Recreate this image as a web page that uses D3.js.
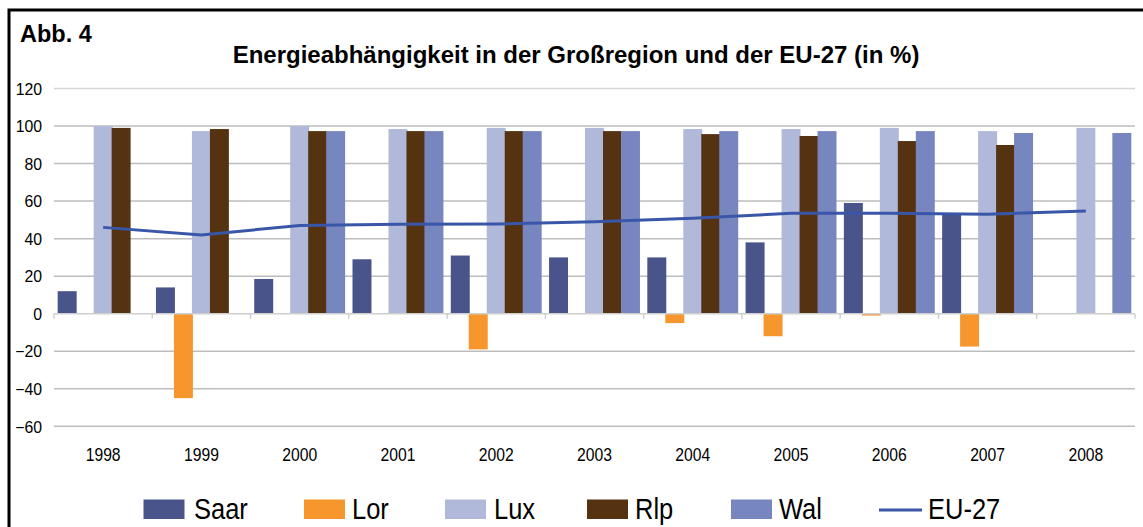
<!DOCTYPE html>
<html>
<head>
<meta charset="utf-8">
<script src="https://cdn.jsdelivr.net/npm/d3@7"></script>
<style>
  html, body { margin: 0; padding: 0; background: #fff; }
  svg { display: block; font-family: "Liberation Sans", Arial, sans-serif; }
</style>
</head>
<body>
<svg id="chart" width="1143" height="527"></svg>
<script>
// Energy dependency (%) per region, 1998–2008
const years = ["1998","1999","2000","2001","2002","2003","2004","2005","2006","2007","2008"];
const saar = [12, 14, 18.5, 29, 31, 30, 30, 38, 59, 53, null];
const lor  = [null, -45, null, null, -19, null, -5, -12, -1, -17.5, null];
const lux  = [100, 97.3, 100, 98.4, 99, 99, 98.4, 98.4, 99, 97.3, 99];
const rlp  = [99, 98.4, 97.3, 97.3, 97.3, 97.3, 95.7, 94.7, 92, 89.9, null];
const wal  = [null, null, 97.3, 97.3, 97.3, 97.3, 97.3, 97.3, 97.3, 96.3, 96.3];
const eu27 = [46, 42, 47, 47.6, 47.8, 49, 50.8, 53.5, 53.5, 53, 54.7];
const yTicks = [-60, -40, -20, 0, 20, 40, 60, 80, 100, 120];

const seriesNames = ["Saar", "Lor", "Lux", "Rlp", "Wal"];
const seriesValues = [saar, lor, lux, rlp, wal];
const colors = { Saar: "#48548A", Lor: "#F6962D", Lux: "#B1B9DA", Rlp: "#553311", Wal: "#7886C0", "EU-27": "#3A56A8" };

const svg = d3.select("#chart");

// outer frame (runs off the right and bottom edges)
svg.append("path")
  .attr("d", "M9,540 L9,10 L1160,10")
  .attr("fill", "none").attr("stroke", "#000").attr("stroke-width", 3);

svg.append("text").attr("x", 20).attr("y", 42)
  .attr("font-size", 23.5).attr("font-weight", "bold").text("Abb. 4");

svg.append("text").attr("x", 576).attr("y", 63).attr("text-anchor", "middle")
  .attr("font-size", 24).attr("font-weight", "bold")
  .text("Energieabhängigkeit in der Großregion und der EU-27 (in %)");

const x = d3.scaleBand().domain(years).range([54, 1135]).paddingInner(0).paddingOuter(0);
const y = d3.scaleLinear().domain([-60, 120]).range([426.3, 88.5]);

// horizontal gridlines
const grid = svg.append("g");
grid.selectAll("line").data(yTicks.filter(t => t !== 0)).join("line")
  .attr("x1", 54).attr("x2", 1135)
  .attr("y1", d => y(d)).attr("y2", d => y(d))
  .attr("stroke", d => d === 120 ? "#D6D6D6" : "#BDBDBD").attr("stroke-width", 1.5);

// y tick labels
const yAxis = d3.axisLeft(y).tickValues(yTicks).tickSize(0).tickPadding(0);
const yg = svg.append("g").attr("transform", "translate(42,0)").call(yAxis);
yg.select(".domain").remove();
yg.selectAll("text").attr("font-size", 15.8).attr("fill", "#000")
  .attr("font-family", "Liberation Sans, Arial, sans-serif").attr("dy", "0.36em");

// bars
const band = x.bandwidth();
const step = band * 0.183;
const barW = band * 0.193;
const margin = (band - (4 * step + barW)) / 2;

const bars = svg.append("g");
seriesNames.forEach((name, i) => {
  const vals = seriesValues[i];
  bars.append("g").selectAll("rect")
    .data(years.map((yr, j) => ({ yr, v: vals[j] })).filter(d => d.v !== null))
    .join("rect")
    .attr("x", d => x(d.yr) + margin + i * step)
    .attr("width", barW)
    .attr("y", d => y(Math.max(0, d.v)))
    .attr("height", d => Math.abs(y(d.v) - y(0)))
    .attr("fill", colors[name]);
});

// category axis at zero
const xAxisG = svg.append("g");
xAxisG.append("line").attr("x1", 54).attr("x2", 1135).attr("y1", y(0)).attr("y2", y(0))
  .attr("stroke", "#CFCFCF").attr("stroke-width", 1.5);
xAxisG.selectAll("line.tick").data(d3.range(years.length + 1)).join("line")
  .attr("class", "tick")
  .attr("x1", i => 54 + i * band).attr("x2", i => 54 + i * band)
  .attr("y1", y(0)).attr("y2", y(0) + 5)
  .attr("stroke", "#CFCFCF").attr("stroke-width", 1.5);

// year labels below the plot (slightly tall, narrow glyphs)
svg.append("g").selectAll("text").data(years).join("text")
  .attr("transform", d => `translate(${x(d) + band / 2},460.5) scale(1,1.19)`)
  .attr("text-anchor", "middle").attr("font-size", 15.7).text(d => d);

// EU-27 line
const line = d3.line().x((d, j) => x(years[j]) + band / 2).y(d => y(d));
svg.append("path").datum(eu27).attr("d", line)
  .attr("fill", "none").attr("stroke", colors["EU-27"]).attr("stroke-width", 3);

// legend
const legendItems = [
  { name: "Saar", sx: 143.5, tx: 194 },
  { name: "Lor", sx: 304, tx: 352 },
  { name: "Lux", sx: 445, tx: 494 },
  { name: "Rlp", sx: 587, tx: 635 },
  { name: "Wal", sx: 731, tx: 779 }
];
const lg = svg.append("g");
legendItems.forEach(it => {
  lg.append("rect").attr("x", it.sx).attr("y", 499.5).attr("width", 41).attr("height", 19.5)
    .attr("fill", colors[it.name]);
  lg.append("text").attr("transform", `translate(${it.tx},518.5) scale(1,1.15)`)
    .attr("font-size", 25.5).text(it.name);
});
lg.append("line").attr("x1", 879).attr("x2", 922).attr("y1", 510).attr("y2", 510)
  .attr("stroke", colors["EU-27"]).attr("stroke-width", 3);
lg.append("text").attr("transform", "translate(928,518.5) scale(1,1.15)")
  .attr("font-size", 25.5).text("EU-27");
</script>
</body>
</html>
